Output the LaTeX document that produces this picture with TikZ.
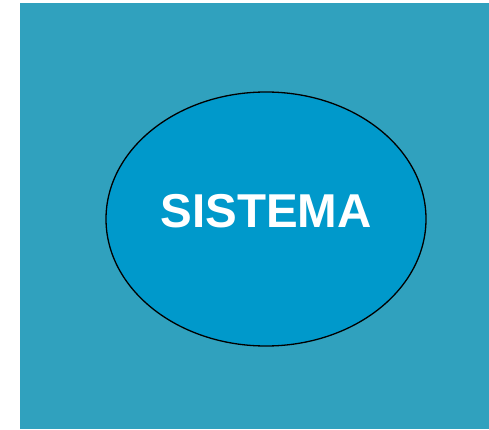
\documentclass[tikz,border=0pt]{standalone}
\usepackage{fontspec}
\setmainfont{Liberation Sans}
\usetikzlibrary{shapes.geometric}
\definecolor{bgc}{HTML}{30A1BE}
\definecolor{elc}{HTML}{0099CB}
\tikzset{
  sysell/.style={ellipse, draw=black, line width=1.3pt, fill=elc, minimum width=320pt, minimum height=254pt, inner sep=0pt},
  systext/.style={text=white, font=\fontsize{47.5pt}{50pt}\selectfont\bfseries, inner sep=0pt, anchor=base}
}
\begin{document}
\begin{tikzpicture}[x=1pt,y=1pt]
\useasboundingbox (0,0) rectangle (489,429);
\fill[bgc] (20,0) rectangle (489,426);
\node[sysell] (sys) at (266,210) {};
\node[systext] (lbl) at (266,202) {SISTEMA};
\end{tikzpicture}
\end{document}
